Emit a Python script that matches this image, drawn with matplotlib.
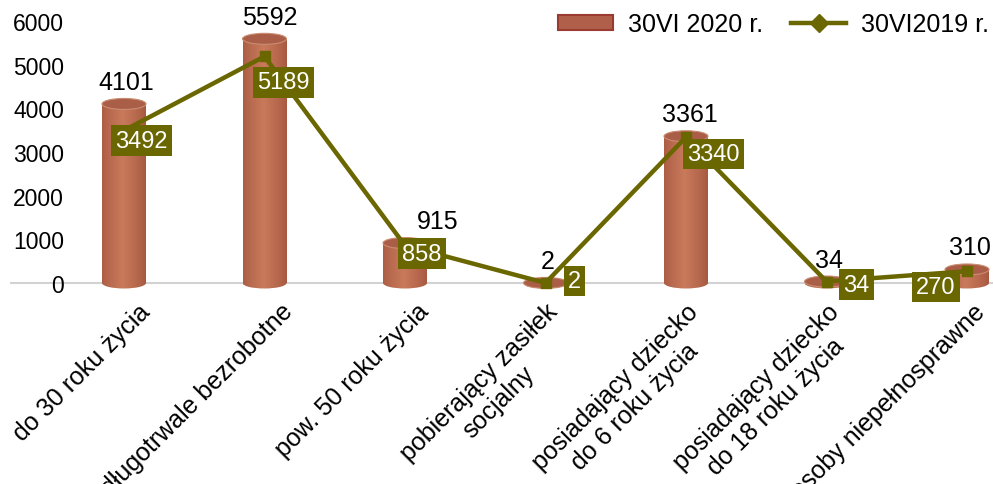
import numpy as np
import matplotlib
matplotlib.use('Agg')
import matplotlib.pyplot as plt
from matplotlib.patches import Ellipse, Patch
from matplotlib.lines import Line2D
from matplotlib.colors import to_rgb

# ---------------- data ----------------
categories = ["do 30 roku życia", "długotrwale bezrobotne", "pow. 50 roku życia",
              "pobierający zasiłek\nsocjalny", "posiadający dziecko\ndo 6 roku życia",
              "posiadający dziecko\ndo 18 roku życia", "osoby niepełnosprawne"]
values_2020 = [4101, 5592, 915, 2, 3361, 34, 310]
values_2019 = [3492, 5189, 858, 2, 3340, 34, 270]
series_names = ["30VI 2020 r.", "30VI2019 r."]
yticks = [0, 1000, 2000, 3000, 4000, 5000, 6000]

# ---------------- style ----------------
plt.rcParams['font.family'] = ['Liberation Sans', 'DejaVu Sans']
FS_TICK = 16.5
FS_CAT = 18
FS_LEG = 18
FS_BAR = 18
FS_LINE = 17
OLIVE = '#6a6600'
EDGE_C = np.array(to_rgb('#a65841'))
CENTER_C = np.array(to_rgb('#c97a5b'))
TOP_C = '#ab5e47'

# label offsets in pixels (style only)
line_lbl_off = [(17, 10), (19, 26), (17, 8), (29, -2), (27, 17), (30, 3), (-31, 16)]
bar_lbl_dx = [2, 5, 33, 2, 4, 2, 3]
cat_lbl_dx = [14, 16, 12, 0, 0, 0, 6]

W, H = 993, 485
fig = plt.figure(figsize=(W / 100, H / 100), dpi=100)

x0_px, dx_px = 124, 140.5
zero_px, px_per_unit = 284, 262 / 6000
ax_left_px, ax_right_px = 10, 993
ylo, yhi = -300, 6300
ax_top_px = zero_px - yhi * px_per_unit
ax_bot_px = zero_px - ylo * px_per_unit
ax = fig.add_axes([ax_left_px / W, 1 - ax_bot_px / H,
                   (ax_right_px - ax_left_px) / W, (ax_bot_px - ax_top_px) / H])
xlo = (ax_left_px - x0_px) / dx_px
xhi = (ax_right_px - x0_px) / dx_px

x = np.arange(len(categories))
w = 44 / dx_px
eh = 11 / px_per_unit

# horizontal gradient for cylinders
t = np.linspace(0, 1, 80)
f = 1 - np.abs(t - 0.47) / 0.53
f = np.clip(f, 0, 1) ** 0.8
grad = (EDGE_C[None, :] + (CENTER_C - EDGE_C)[None, :] * f[:, None])[None, :, :]

ax.axhline(0, color='#d2d2d2', lw=1.5, zorder=1)

bars = ax.bar(x, values_2020, width=w, color='none', edgecolor='none', zorder=2)
for xi, v, rect in zip(x, values_2020, bars):
    im = ax.imshow(grad, extent=[xi - w / 2, xi + w / 2, 0, v], aspect='auto',
                   interpolation='bilinear', zorder=2)
    im.set_clip_path(rect)
    be = Ellipse((xi, 0), w, eh, fc='none', ec='none')
    ax.add_patch(be)
    im2 = ax.imshow(grad, extent=[xi - w / 2, xi + w / 2, -eh / 2, eh / 2], aspect='auto',
                    interpolation='bilinear', zorder=1.9)
    im2.set_clip_path(be)
    ax.add_patch(Ellipse((xi, v), w, eh, fc=TOP_C, ec='#c98d72', lw=0.8, zorder=2.1))

ax.plot(x, values_2019, color=OLIVE, lw=3.2, marker='s', ms=7.5, zorder=3,
        solid_joinstyle='miter')

# bar value labels
for xi, v, ddx in zip(x, values_2020, bar_lbl_dx):
    ax.annotate(f"{v}", (xi, v), xytext=(ddx, 10), textcoords='offset pixels',
                ha='center', va='bottom', fontsize=FS_BAR, color='black', zorder=5)

# line value labels
for xi, v, (ox, oy) in zip(x, values_2019, line_lbl_off):
    ax.annotate(f"{v}", (xi, v), xytext=(ox, -oy), textcoords='offset pixels',
                ha='center', va='center', fontsize=FS_LINE, color='white', zorder=6,
                bbox=dict(boxstyle='square,pad=0.18', fc=OLIVE, ec='none'))

# category labels
for xi, lab, ddx in zip(x, categories, cat_lbl_dx):
    ax.annotate(lab, (xi, 0), xytext=(ddx, -(300 - zero_px)), textcoords='offset pixels',
                ha='right', va='top', rotation=45, rotation_mode='anchor',
                multialignment='center', fontsize=FS_CAT, color='black',
                annotation_clip=False)

ax.set_xlim(xlo, xhi)
ax.set_ylim(ylo, yhi)
ax.set_xticks([])
ax.set_yticks(yticks)
ax.tick_params(axis='y', length=0, pad=-(64 - ax_left_px) * 0.72, labelsize=FS_TICK)
for s in ax.spines.values():
    s.set_visible(False)
ax.patch.set_alpha(0)

handles = [Patch(fc='#b0604a', ec='#9a3a30', lw=1.5),
           Line2D([0], [0], color=OLIVE, lw=3.2, marker='D', ms=9)]
fig.legend(handles, series_names, loc='center right', ncol=2, frameon=False,
           bbox_to_anchor=(989 / W, 1 - 25 / H), fontsize=FS_LEG, borderaxespad=0,
           borderpad=0, handlelength=2.2, handleheight=0.55, handletextpad=0.6,
           columnspacing=1.1)

fig.savefig('out.png', dpi=100)
